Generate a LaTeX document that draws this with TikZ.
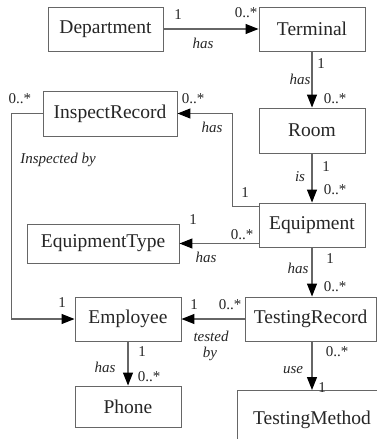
\documentclass[tikz,border=0pt]{standalone}
\usepackage{fontspec}
\setmainfont{Liberation Serif}
\usepackage{tikz}
\usetikzlibrary{arrows.meta,positioning}

\tikzset{
  entity/.style={draw=black!60, line width=0.9pt, fill=white, inner sep=0pt,
    text=black!85, font=\fontsize{19.5}{22}\selectfont},
  assoc/.style={draw=black!60, line width=1.2pt,
    -{Triangle[length=13pt,width=10pt,fill=black,color=black]}},
  mult/.style={inner sep=0pt, text=black!85, font=\fontsize{15}{17}\selectfont},
  role/.style={inner sep=0pt, text=black!85, font=\fontsize{15}{17}\selectfont\itshape}
}

\begin{document}
\begin{tikzpicture}[x=1pt,y=-1pt]
			\clip (0,0) rectangle (377,439);
			\fill[white] (0,0) rectangle (377,439);

			\node[entity, minimum width=115, minimum height=44] (department) at (105.5, 29) {Department};
			\node[entity, minimum width=106, minimum height=44] (terminal) at (312, 29) {Terminal};
			\node[entity, minimum width=106, minimum height=45] (room) at (312, 130.5) {Room};
			\node[entity, minimum width=134, minimum height=45] (inspect) at (110, 113.5) {InspectRecord};
			\node[entity, minimum width=106, minimum height=44] (equipment) at (312, 225) {Equipment};
			\node[entity, minimum width=152, minimum height=39] (eqtype) at (103, 243.5) {EquipmentType};
			\node[entity, minimum width=106, minimum height=44] (employee) at (128, 319) {Employee};
			\node[entity, minimum width=131, minimum height=44] (testrec) at (310.5, 319) {TestingRecord};
			\node[entity, minimum width=106, minimum height=41] (phone) at (128, 406.5) {Phone};
			\node[entity, minimum width=150, minimum height=60, anchor=north] (testmeth) at (312, 390) {};
			\node[entity, draw=none, fill=none] (testmethtext) at (312, 420) {TestingMethod};

			% associations
			\draw[assoc] (department) to (terminal);
			\draw[assoc] (terminal) to (room);
			\draw[assoc] (room) to (equipment);
			\draw[assoc] (equipment.south) to (equipment.south |- testrec.north);
			\draw[assoc] (testrec.south -| equipment.south) to (testmeth.north -| equipment.south);
			\draw[assoc] (eqtype.east -| equipment.west) to (eqtype.east);
			\draw[assoc] (testrec) to (employee);
			\draw[assoc] (employee) to (phone);
			\draw[assoc] ([yshift=-4pt]equipment.north west) -- ++(-26,0) |- (inspect.east);
			\draw[assoc] (inspect.west) -- ++(-31,0) |- (employee.west);

			% multiplicities and roles
			\node[mult] (m1) at (178, 15) {1};
			\node[mult] (m2) at (246, 13) {0..*};
			\node[role] (r1) at (203, 43) {has};
			\node[mult] (m3) at (321, 64) {1};
			\node[role] (r2) at (300, 79) {has};
			\node[mult] (m4) at (335, 99) {0..*};
			\node[mult] (m5) at (20, 99) {0..*};
			\node[mult] (m6) at (193, 99) {0..*};
			\node[role] (r3) at (212, 127) {has};
			\node[role] (r4) at (58, 160) {Inspected by};
			\node[mult] (m7) at (326, 167) {1};
			\node[role] (r5) at (300, 177) {is};
			\node[mult] (m8) at (335, 190) {0..*};
			\node[mult] (m9) at (245, 193) {1};
			\node[mult] (m10) at (193, 220) {1};
			\node[mult] (m11) at (242, 235) {0..*};
			\node[role] (r6) at (206, 257) {has};
			\node[mult] (m12) at (330, 259) {1};
			\node[role] (r7) at (298, 268) {has};
			\node[mult] (m13) at (335, 287) {0..*};
			\node[mult] (m14) at (62, 303) {1};
			\node[mult] (m15) at (194, 305) {1};
			\node[mult] (m16) at (230, 305) {0..*};
			\node[role] (r8) at (211, 336) {tested};
			\node[role] (r9) at (210, 354) {by};
			\node[mult] (m17) at (142, 352) {1};
			\node[role] (r10) at (105, 367) {has};
			\node[mult] (m18) at (149, 377) {0..*};
			\node[mult] (m19) at (337, 352) {0..*};
			\node[role] (r11) at (293, 370) {use};
			\node[mult] (m20) at (322, 388) {1};
		\end{tikzpicture}
\end{document}
